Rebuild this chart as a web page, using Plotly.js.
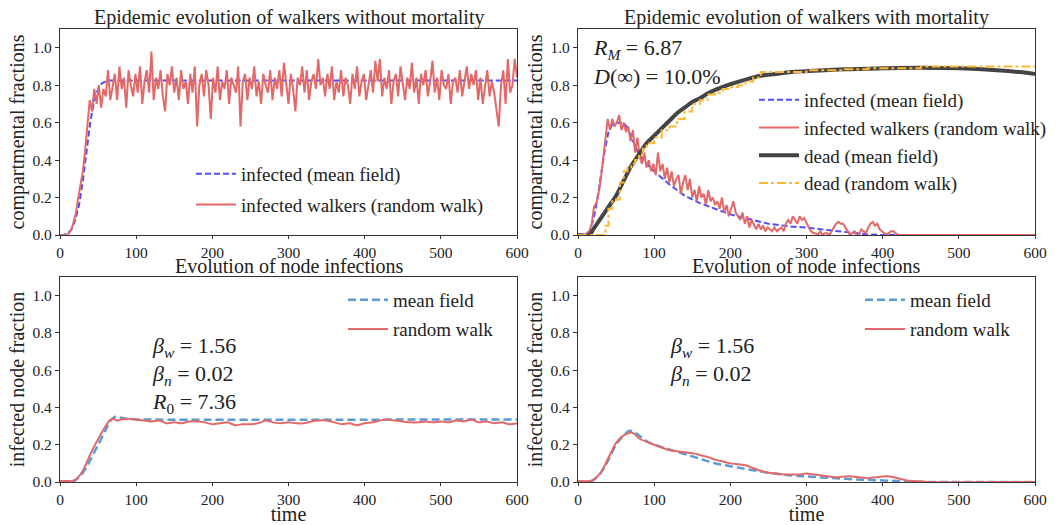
<!DOCTYPE html>
<html>
<head>
<meta charset="utf-8">
<script src="https://cdn.plot.ly/plotly-3.0.1.min.js"></script>
</head>
<body style="margin:0;background:#fff">
<div id="chart" style="width:1063px;height:525px"></div>
<script>
// ---------- DATA ----------
// Panel 1: walkers without mortality
const mfT1 = [0,5,10,15,20,25,30,35,40,45,50,55,60,65,70,80,600];
const mfI1 = [0,0.002,0.008,0.03,0.08,0.16,0.29,0.45,0.61,0.72,0.78,0.81,0.82,0.825,0.825,0.825,0.825];
const rwStep1 = 3;
const rwI1 = [
0,0,0,0,0.01,0.03,0.07,0.12,0.2,0.28,0.34,0.45,0.58,0.72,0.66,0.78,0.70,0.80,0.68,0.78,0.74,0.88,0.72,
0.80,0.86,0.72,0.90,0.78,0.84,0.68,0.88,0.80,0.74,
0.86,0.76,0.90,0.70,0.82,0.88,0.76,0.98,0.72,0.84,
0.78,0.88,0.74,0.66,0.86,0.80,0.90,0.76,0.84,0.72,
0.88,0.78,0.82,0.70,0.86,0.76,0.90,0.58,0.80,0.86,
0.74,0.88,0.80,0.62,0.84,0.76,0.90,0.72,0.82,0.78,
0.88,0.70,0.84,0.80,0.76,0.90,0.58,0.82,0.86,0.72,
0.84,0.78,0.90,0.74,0.82,0.70,0.86,0.80,0.76,0.88,
0.72,0.84,0.78,0.88,0.74,0.92,0.80,0.70,0.86,0.78,
0.66,0.84,0.80,0.90,0.76,0.88,0.72,0.82,0.86,0.78,
0.94,0.80,0.84,0.74,0.86,0.78,0.90,0.72,0.82,0.76,
0.88,0.74,0.84,0.80,0.70,0.86,0.78,0.90,0.74,0.82,
0.86,0.72,0.80,0.88,0.76,0.93,0.82,0.94,0.74,0.84,
0.78,0.88,0.70,0.82,0.86,0.74,0.90,0.80,0.72,0.84,
0.78,0.92,0.76,0.84,0.70,0.86,0.80,0.88,0.74,0.82,
0.93,0.76,0.84,0.72,0.88,0.80,0.78,0.86,0.70,0.82,
0.84,0.76,0.88,0.74,0.82,0.90,0.78,0.86,0.80,0.88,
0.72,0.84,0.70,0.80,0.88,0.74,0.82,0.76,0.66,0.58,
0.80,0.88,0.70,0.94,0.76,0.80,0.94,0.84];

// Panel 2: walkers with mortality
const mfT2 = [0,10,15,20,25,30,35,40,45,50,55,60,65,70,75,80,90,100,120,140,160,180,200,220,250,280,300,320,340,360,380,400,600];
const mfI2 = [0,0.005,0.02,0.08,0.18,0.32,0.45,0.55,0.59,0.60,0.60,0.60,0.57,0.52,0.47,0.43,0.38,0.34,0.27,0.21,0.17,0.14,0.11,0.09,0.06,0.045,0.04,0.03,0.02,0.01,0.003,0,0];
const rwStep2 = 3;
const rwI2 = [
0,0,0,0,0.01,0.02,0.06,0.15,0.17,0.22,0.30,0.40,0.52,0.62,0.56,0.62,0.58,0.60,0.64,0.56,
0.60,0.55,0.58,0.50,0.56,0.44,0.52,0.42,0.38,0.44,0.36,0.40,0.34,0.38,0.32,0.44,0.34,0.38,0.30,0.36,
0.28,0.34,0.26,0.30,0.32,0.22,0.28,0.32,0.24,0.30,0.20,0.24,0.18,0.26,0.20,0.22,0.16,0.24,0.18,0.20,
0.16,0.18,0.14,0.20,0.12,0.16,0.10,0.14,0.18,0.12,0.10,0.08,0.12,0.06,0.10,0.04,0.08,0.05,0.03,0.06,
0.03,0.05,0.02,0.04,0.03,0.02,0.04,0.02,0.03,0.04,0.02,0.06,0.08,0.06,0.10,0.08,0.06,0.10,0.08,0.09,
0.06,0.04,0.02,0.01,0.01,0.0,0.02,0.0,0.01,0.01,0.0,0.02,0.04,0.06,0.07,0.06,0.06,0.04,0.02,0.0,
0.01,0.02,0.0,0.0,0.03,0.02,0.01,0.04,0.06,0.07,0.05,0.06,0.03,0.02,0.01,0.0,0.01,0.02,0.02,0.01,
0,0,0,0,0,0,0,0,0,0,0,0,0,0,0,0,0,0,0,0,
0,0,0,0,0,0,0,0,0,0,0,0,0,0,0,0,0,0,0,0,
0,0,0,0,0,0,0,0,0,0,0,0,0,0,0,0,0,0,0,0,0];
const mfDT = [0,15,20,30,40,50,60,70,80,90,100,110,120,130,140,150,160,170,180,200,220,240,260,280,300,350,400,450,500,550,580,600];
const mfD = [0,0,0.03,0.09,0.15,0.21,0.29,0.37,0.43,0.49,0.53,0.57,0.61,0.65,0.68,0.71,0.73,0.755,0.775,0.805,0.83,0.85,0.86,0.87,0.875,0.885,0.89,0.893,0.89,0.88,0.87,0.86];
const rwDT = [0,36,40,45,50,55,60,65,70,75,80,85,90,100,110,120,130,140,150,160,170,180,190,200,210,220,230,240,300,350,380,450,600];
const rwD = [0,0.05,0.14,0.18,0.19,0.28,0.34,0.36,0.38,0.40,0.43,0.46,0.49,0.52,0.56,0.58,0.62,0.66,0.70,0.72,0.75,0.76,0.78,0.79,0.80,0.82,0.84,0.87,0.88,0.885,0.89,0.90,0.90];

// Panel 3: node infections (no mortality)
const nT3 = [0,15,20,30,40,50,60,65,70,75,80,90,100,600];
const nMF3 = [0,0.002,0.01,0.05,0.12,0.20,0.28,0.32,0.345,0.35,0.345,0.338,0.336,0.336];
const rT3 = [0,10,20,30,40,50,60,65,70,75,80,90,100,110,120,130,140,150,160,170,180,190,200,210,220,230,240,250,260,270,280,290,300,310,320,330,340,350,360,370,380,390,400,410,420,430,440,450,460,470,480,490,500,510,520,530,540,550,560,570,580,590,600];
const rRW3 = [0.005,0.005,0.01,0.06,0.15,0.23,0.30,0.33,0.34,0.33,0.335,0.34,0.335,0.33,0.325,0.33,0.315,0.32,0.315,0.325,0.325,0.32,0.31,0.315,0.32,0.305,0.31,0.31,0.315,0.33,0.32,0.315,0.32,0.315,0.315,0.325,0.33,0.33,0.32,0.31,0.315,0.305,0.315,0.32,0.33,0.335,0.33,0.325,0.32,0.32,0.325,0.32,0.325,0.32,0.33,0.325,0.335,0.32,0.325,0.315,0.32,0.31,0.315];

// Panel 4: node infections (with mortality)
const nT4 = [0,15,20,30,40,50,60,68,75,80,90,100,120,140,160,180,200,220,250,280,300,330,360,390,420,450,600];
const nMF4 = [0,0.002,0.01,0.05,0.12,0.20,0.25,0.275,0.265,0.25,0.22,0.20,0.175,0.15,0.125,0.10,0.085,0.07,0.05,0.035,0.03,0.022,0.015,0.01,0.005,0.001,0];
const rT4 = [0,15,20,30,40,50,60,70,75,80,90,100,110,120,130,140,150,160,170,180,190,200,210,220,230,240,250,260,270,280,290,300,310,320,330,340,350,360,370,380,390,400,410,420,430,440,460,600];
const rRW4 = [0.005,0.005,0.01,0.05,0.13,0.21,0.25,0.265,0.255,0.235,0.215,0.20,0.185,0.17,0.165,0.16,0.155,0.145,0.135,0.12,0.11,0.10,0.095,0.09,0.075,0.06,0.05,0.045,0.04,0.04,0.04,0.045,0.04,0.035,0.03,0.025,0.03,0.03,0.025,0.02,0.025,0.03,0.03,0.02,0.01,0.005,0,0];

const xTicks = [0,100,200,300,400,500,600];
const yTicks = [0,0.2,0.4,0.6,0.8,1.0];

// ---------- STYLE ----------
var serifFam = 'Liberation Serif';
var RED = "#e36868", BLUE = "#4d4dff", LBLUE = "#5b9bd5", DARK = "#444444", ORANGE = "#ffb733";

function steps(vals, step) { return vals.map(function (v, i) { return i * step; }); }
function f(size) { return {family: serifFam, size: size, color: '#222222'}; }

var traces = [
  {x: mfT1, y: mfI1, xaxis: 'x', yaxis: 'y', mode: 'lines', name: 'infected (mean field)', line: {color: BLUE, width: 2, dash: '6px,3px'}, legend: 'legend', legendgroup: 'a1'},
  {x: steps(rwI1, rwStep1), y: rwI1, xaxis: 'x', yaxis: 'y', mode: 'lines', name: 'infected walkers (random walk)', line: {color: RED, width: 2}, legend: 'legend', legendgroup: 'a2'},

  {x: mfT2, y: mfI2, xaxis: 'x2', yaxis: 'y2', mode: 'lines', name: 'infected (mean field)', line: {color: BLUE, width: 2, dash: '6px,3px'}, legend: 'legend2', legendgroup: 'b1'},
  {x: steps(rwI2, rwStep2), y: rwI2, xaxis: 'x2', yaxis: 'y2', mode: 'lines', name: 'infected walkers (random walk)', line: {color: RED, width: 2}, legend: 'legend2', legendgroup: 'b2'},
  {x: mfDT, y: mfD, xaxis: 'x2', yaxis: 'y2', mode: 'lines', name: 'dead (mean field)', line: {color: DARK, width: 4, shape: 'spline'}, legend: 'legend2', legendgroup: 'b3'},
  {x: rwDT, y: rwD, xaxis: 'x2', yaxis: 'y2', mode: 'lines', name: 'dead (random walk)', line: {color: ORANGE, width: 2, dash: 'dashdot', shape: 'hv'}, legend: 'legend2', legendgroup: 'b4'},

  {x: nT3, y: nMF3, xaxis: 'x3', yaxis: 'y3', mode: 'lines', name: 'mean field', line: {color: LBLUE, width: 2.5, dash: '8px,4px', shape: 'spline'}, legend: 'legend3', legendgroup: 'c1'},
  {x: rT3, y: rRW3, xaxis: 'x3', yaxis: 'y3', mode: 'lines', name: 'random walk', line: {color: RED, width: 2, shape: 'spline', smoothing: 0.6}, legend: 'legend3', legendgroup: 'c2'},

  {x: nT4, y: nMF4, xaxis: 'x4', yaxis: 'y4', mode: 'lines', name: 'mean field', line: {color: LBLUE, width: 2.5, dash: '8px,4px', shape: 'spline'}, legend: 'legend4', legendgroup: 'd1'},
  {x: rT4, y: rRW4, xaxis: 'x4', yaxis: 'y4', mode: 'lines', name: 'random walk', line: {color: RED, width: 2, shape: 'spline', smoothing: 0.6}, legend: 'legend4', legendgroup: 'd2'}
];

var xL = [60/1063, 517/1063], xR = [578/1063, 1035/1063];
var yT = [1 - 235/525, 1 - 29/525], yB = [1 - 482/525, 1 - 277/525];

function xax(domain, anchor, title) {
  var a = {domain: domain, anchor: anchor, range: [0, 600], tickvals: xTicks, ticks: 'outside', ticklen: 3, tickcolor: '#333',
    showline: true, mirror: true, linecolor: '#333', linewidth: 1.2, showgrid: false, zeroline: false,
    tickfont: f(15.5), fixedrange: true};
  if (title) a.title = {text: title, font: f(20), standoff: 0};
  return a;
}
function yax(domain, anchor, title) {
  return {domain: domain, anchor: anchor, range: [0, 1.1], tickvals: yTicks, tickformat: '.1f', ticks: 'outside', ticklen: 4, tickcolor: '#333',
    showline: true, mirror: true, linecolor: '#333', linewidth: 1.2, showgrid: false, zeroline: false,
    tickfont: f(15.5), fixedrange: true,
    title: {text: title, font: f(20), standoff: 2}};
}

function leg(x, y, gap) {
  return {x: x, y: y, xref: 'paper', yref: 'paper', xanchor: 'left', yanchor: 'top', bgcolor: 'rgba(255,255,255,0)',
    borderwidth: 0, font: f(19), tracegroupgap: gap, itemwidth: 40};
}

function ann(text, x, y, size, xanchor) {
  return {text: text, x: x, y: y, xref: 'paper', yref: 'paper', xanchor: xanchor || 'left', yanchor: 'middle', showarrow: false,
    font: f(size)};
}

var layout = {
  width: 1063, height: 525, margin: {l: 0, r: 0, t: 0, b: 0}, paper_bgcolor: '#fff', plot_bgcolor: '#fff', showlegend: true,
  font: f(16),
  xaxis: xax(xL, 'y'), yaxis: yax(yT, 'x', 'compartmental fractions'),
  xaxis2: xax(xR, 'y2'), yaxis2: yax(yT, 'x2', 'compartmental fractions'),
  xaxis3: xax(xL, 'y3', 'time'), yaxis3: yax(yB, 'x3', 'infected node fraction'),
  xaxis4: xax(xR, 'y4', 'time'), yaxis4: yax(yB, 'x4', 'infected node fraction'),
  legend: leg(191/1063, 1 - 155/525, 3),
  legend2: leg(754/1063, 1 - 81/525, 0),
  legend3: leg(343/1063, 1 - 281/525, 1.5),
  legend4: leg(860/1063, 1 - 281/525, 1.5),
  annotations: [
    ann('Epidemic evolution of walkers without mortality', 289/1063, 1 - 17/525, 20, 'center'),
    ann('Epidemic evolution of walkers with mortality', 806/1063, 1 - 17/525, 20, 'center'),
    ann('Evolution of node infections', 289/1063, 1 - 266/525, 20, 'center'),
    ann('Evolution of node infections', 806/1063, 1 - 266/525, 20, 'center'),
    ann('<i>R<sub>M</sub></i> = 6.87', 591/1063, 1 - 49/525, 22),
    ann('<i>D</i>(∞) = 10.0%', 591/1063, 1 - 76/525, 22),
    ann('<i>β<sub>w</sub></i> = 1.56', 150/1063, 1 - 347/525, 22),
    ann('<i>β<sub>n</sub></i> = 0.02', 150/1063, 1 - 375/525, 22),
    ann('<i>R</i><sub>0</sub> = 7.36', 150/1063, 1 - 403/525, 22),
    ann('<i>β<sub>w</sub></i> = 1.56', 668/1063, 1 - 347/525, 22),
    ann('<i>β<sub>n</sub></i> = 0.02', 668/1063, 1 - 375/525, 22)
  ]
};

Plotly.newPlot('chart', traces, layout, {displayModeBar: false});
</script>
</body>
</html>
